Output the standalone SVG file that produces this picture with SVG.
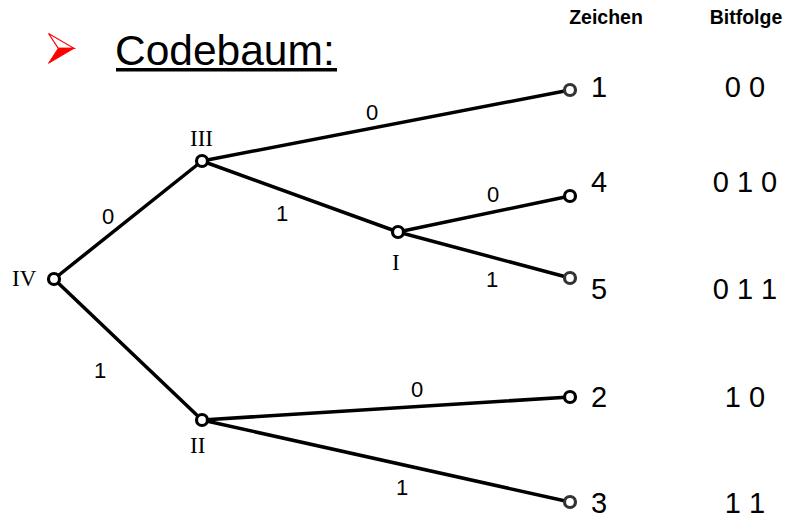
<svg xmlns="http://www.w3.org/2000/svg" width="794" height="519" viewBox="0 0 794 519">
  <style>
    .edge { stroke: #000; stroke-width: 3.5; fill: none; stroke-linecap: round; }
    .node { fill: #fff; stroke: #000; stroke-width: 3.2; }
    .node.soft { stroke: #333; }
    .roman { font-family: "Liberation Serif", "Times New Roman", serif; font-size: 23px; fill: #000; }
    .bit { font-family: "Liberation Sans", Arial, sans-serif; font-size: 22px; fill: #000; text-anchor: middle; }
    .leaf { font-family: "Liberation Sans", Arial, sans-serif; font-size: 29px; fill: #000; }
    .code { font-family: "Liberation Sans", Arial, sans-serif; font-size: 29px; fill: #000; text-anchor: middle; }
    .head { font-family: "Liberation Sans", Arial, sans-serif; font-size: 19.5px; font-weight: bold; fill: #000; text-anchor: middle; }
  </style>
  <defs>
    <linearGradient id="fade1" gradientUnits="userSpaceOnUse" x1="202" y1="161" x2="570" y2="90">
      <stop offset="0.85" stop-color="#000"/>
      <stop offset="0.9" stop-color="#333"/>
    </linearGradient>
    <linearGradient id="fade5" gradientUnits="userSpaceOnUse" x1="398" y1="232" x2="570" y2="278">
      <stop offset="0.7" stop-color="#000"/>
      <stop offset="0.78" stop-color="#333"/>
    </linearGradient>
    <linearGradient id="fade3" gradientUnits="userSpaceOnUse" x1="202" y1="420" x2="570" y2="502">
      <stop offset="0.82" stop-color="#000"/>
      <stop offset="0.88" stop-color="#333"/>
    </linearGradient>
  </defs>

  <rect width="794" height="519" fill="#fff"/>

  <!-- title with arrow bullet -->
  <g id="title">
    <polygon points="48.5,33.5 74,48.3 58.3,48.3" fill="#fff" stroke="#f00" stroke-width="1.2" stroke-linejoin="miter"/>
    <polygon points="58.3,48.3 74,48.3 48.5,63.3" fill="#f00" stroke="#f00" stroke-width="1"/>
    <text x="115" y="65" font-family="'Liberation Sans', Arial, sans-serif" font-size="42.5" fill="#000">Codebaum:</text>
    <rect x="116" y="68" width="221" height="3.5" fill="#000"/>
  </g>

  <!-- column headers -->
  <g id="headers">
    <text class="head" x="606" y="24">Zeichen</text>
    <text class="head" x="746" y="24">Bitfolge</text>
  </g>

  <!-- branches of the tree -->
  <g id="connectors">
    <line class="edge" x1="54" y1="279" x2="202" y2="161"/>
    <line class="edge" x1="54" y1="279" x2="202" y2="420"/>
    <line class="edge" x1="202" y1="161" x2="570" y2="90" stroke="url(#fade1)"/>
    <line class="edge" x1="202" y1="161" x2="398" y2="232"/>
    <line class="edge" x1="398" y1="232" x2="570" y2="196"/>
    <line class="edge" x1="398" y1="232" x2="570" y2="278" stroke="url(#fade5)"/>
    <line class="edge" x1="202" y1="420" x2="570" y2="397"/>
    <line class="edge" x1="202" y1="420" x2="570" y2="502" stroke="url(#fade3)"/>

    <text class="bit" x="108" y="224">0</text>
    <text class="bit" x="100" y="378">1</text>
    <text class="bit" x="372" y="120">0</text>
    <text class="bit" x="282" y="221">1</text>
    <text class="bit" x="493" y="202">0</text>
    <text class="bit" x="492" y="287">1</text>
    <text class="bit" x="417" y="397">0</text>
    <text class="bit" x="402" y="495">1</text>
  </g>

  <!-- inner nodes -->
  <g id="node-IV">
    <circle class="node" cx="54" cy="279" r="5.5"/>
    <text class="roman" x="12" y="286">IV</text>
  </g>
  <g id="node-III">
    <circle class="node" cx="202" cy="161" r="5.5"/>
    <text class="roman" x="190" y="146">III</text>
  </g>
  <g id="node-I">
    <circle class="node" cx="398" cy="232" r="5.5"/>
    <text class="roman" x="392" y="270">I</text>
  </g>
  <g id="node-II">
    <circle class="node" cx="202" cy="420" r="5.5"/>
    <text class="roman" x="190" y="453">II</text>
  </g>

  <!-- leaves with their code words -->
  <g id="leaf-1">
    <circle class="node soft" cx="570" cy="90" r="5.5"/>
    <text class="leaf" x="591" y="97">1</text>
    <text class="code" x="745" y="97">0 0</text>
  </g>
  <g id="leaf-4">
    <circle class="node" cx="570" cy="196" r="5.5"/>
    <text class="leaf" x="591" y="192">4</text>
    <text class="code" x="745" y="192">0 1 0</text>
  </g>
  <g id="leaf-5">
    <circle class="node soft" cx="570" cy="278" r="5.5"/>
    <text class="leaf" x="591" y="299">5</text>
    <text class="code" x="745" y="299">0 1 1</text>
  </g>
  <g id="leaf-2">
    <circle class="node" cx="570" cy="397" r="5.5"/>
    <text class="leaf" x="591" y="407">2</text>
    <text class="code" x="745" y="407">1 0</text>
  </g>
  <g id="leaf-3">
    <circle class="node soft" cx="570" cy="502" r="5.5"/>
    <text class="leaf" x="591" y="513">3</text>
    <text class="code" x="745" y="513">1 1</text>
  </g>
</svg>
